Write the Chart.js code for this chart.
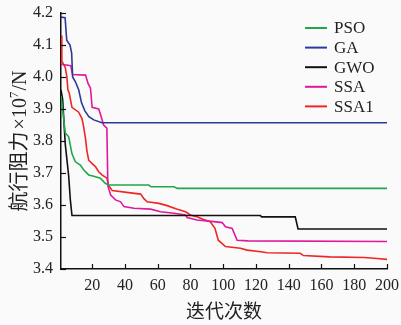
<!DOCTYPE html>
<html><head><meta charset="utf-8">
<script src="https://cdn.jsdelivr.net/npm/chart.js@4/dist/chart.umd.min.js"></script>
<style>
html,body{margin:0;padding:0;background:#fafafa;}
#wrap{width:401px;height:325px;position:relative;}
</style></head>
<body><div id="wrap"><canvas id="c" width="401" height="325"></canvas></div>
<script>
const seriesNames = ["PSO","GA","GWO","SSA","SSA1"];
const seriesColors = ["#1ea84a","#2b3a98","#111111","#e0189c","#ee2626"];
const xTickValues = [20,40,60,80,100,120,140,160,180,200];
const yTickValues = [3.4,3.5,3.6,3.7,3.8,3.9,4.0,4.1,4.2];
const xTitle = "迭代次数";
const yTitleCJK = "航行阻力";
const yTitleA = "×10";
const yTitleSup = "7";
const yTitleB = "/N";

const psoIter = [1,2,3.6,5.7,7.7,9.8,12.8,14.8,17.9,21,25,28,30,54.6,56,70,72,200];
const psoVal  = [3.94,3.90,3.825,3.813,3.76,3.735,3.725,3.71,3.694,3.69,3.684,3.668,3.6625,3.6625,3.657,3.657,3.652,3.652];

const gaIter = [1,3.5,4.5,6.5,7.5,8.1,9.8,11.8,13.5,15.5,18,21,26,200];
const gaVal  = [4.187,4.185,4.115,4.10,4.075,4.0,3.985,3.96,3.92,3.895,3.876,3.866,3.857,3.857];

const gwoIter = [1,2,3.6,5.7,6.7,7.7,122.7,123.5,144,145.7,200];
const gwoVal  = [3.96,3.93,3.79,3.69,3.616,3.567,3.567,3.563,3.563,3.525,3.525];

const ssaIter = [1,7,8,16,17.5,19,20,24,25,27,29,29.6,30.5,31.3,34.3,37.4,39.4,45.5,55.7,61.8,70,77,78,84,94.3,99.4,101.4,105.5,108.5,115,200];
const ssaVal  = [4.04,4.035,4.008,4.006,3.98,3.965,3.905,3.90,3.885,3.85,3.84,3.66,3.645,3.631,3.616,3.61,3.595,3.59,3.587,3.579,3.574,3.569,3.561,3.553,3.548,3.545,3.532,3.527,3.49,3.488,3.486];

const ssa1Iter = [1,1.5,2.5,3.6,4.6,5.2,6,7.7,11.8,13.8,14.8,15.9,16.8,17.9,19.9,22,24,26,29,30,32.3,43.5,49.6,51.6,53.6,60.7,65.8,72,77,80,84,88,92,95,97,101.4,110.5,114.6,123,126.8,147,149,165,186,194,200];
const ssa1Val  = [4.13,4.05,4.04,4.03,4.0,3.96,3.95,3.905,3.89,3.87,3.845,3.81,3.77,3.74,3.73,3.72,3.704,3.694,3.684,3.662,3.645,3.638,3.634,3.62,3.61,3.605,3.598,3.587,3.579,3.569,3.563,3.555,3.548,3.527,3.49,3.47,3.465,3.459,3.454,3.451,3.449,3.442,3.438,3.436,3.433,3.43];

const iters = [psoIter,gaIter,gwoIter,ssaIter,ssa1Iter];
const vals = [psoVal,gaVal,gwoVal,ssaVal,ssa1Val];

const FONT = '"Liberation Serif","Times New Roman","Noto Sans CJK SC",serif';
const CJK = '"Noto Sans CJK SC",sans-serif';

const datasets = seriesNames.map((n,i)=>({
  label:n,
  data: iters[i].map((x,k)=>({x:x,y:vals[i][k]})),
  borderColor: seriesColors[i],
  backgroundColor: seriesColors[i],
  borderWidth: 1.6,
  pointRadius: 0,
  showLine: true,
  tension: 0,
  fill: false
}));

const decor = {
  id:'decor',
  afterDatasetsDraw(chart){
    const ctx = chart.ctx;
    const xs = chart.scales.x, ys = chart.scales.y;
    const ca = chart.chartArea;
    ctx.save();
    ctx.strokeStyle = '#111';
    ctx.lineWidth = 1.2;
    xTickValues.forEach(v=>{
      const px = Math.round(xs.getPixelForValue(v))+0.5;
      ctx.beginPath(); ctx.moveTo(px, ca.bottom); ctx.lineTo(px, ca.bottom-5); ctx.stroke();
    });
    yTickValues.forEach(v=>{
      const py = Math.round(ys.getPixelForValue(v))+0.5;
      ctx.beginPath(); ctx.moveTo(ca.left, py); ctx.lineTo(ca.left+5, py); ctx.stroke();
    });
    // legend
    ctx.font = '17px ' + FONT;
    ctx.textBaseline = 'middle';
    ctx.textAlign = 'left';
    seriesNames.forEach((n,i)=>{
      const y = 28 + i*19.6;
      ctx.strokeStyle = seriesColors[i];
      ctx.lineWidth = 2;
      ctx.beginPath(); ctx.moveTo(305, y); ctx.lineTo(327, y); ctx.stroke();
      ctx.fillStyle = '#222';
      ctx.fillText(n, 334, y+1);
    });
    // x title
    ctx.fillStyle = '#222';
    ctx.font = '19px ' + CJK;
    ctx.textAlign = 'center';
    ctx.fillText(xTitle, (ca.left+ca.right)/2, 311);
    // y title (piecewise, rotated)
    ctx.save();
    ctx.translate(19, (ca.top+ca.bottom)/2);
    ctx.rotate(-Math.PI/2);
    ctx.textAlign = 'left';
    ctx.textBaseline = 'alphabetic';
    const fC = '20px ' + CJK, fL = '20px ' + FONT, fS = '13px ' + FONT;
    ctx.font = fC; const wC = ctx.measureText(yTitleCJK).width;
    ctx.font = fL; const wA = ctx.measureText(yTitleA).width, wB = ctx.measureText(yTitleB).width;
    ctx.font = fS; const wS = ctx.measureText(yTitleSup).width;
    const gap = 2;
    const total = wC + gap + wA + wS + 1 + wB;
    let x0 = -total/2;
    const base = 7;
    ctx.font = fC; ctx.fillText(yTitleCJK, x0, base); x0 += wC + gap;
    ctx.font = fL; ctx.fillText(yTitleA, x0, base); x0 += wA;
    ctx.font = fS; ctx.fillText(yTitleSup, x0, base-8); x0 += wS + 1;
    ctx.font = fL; ctx.fillText(yTitleB, x0, base);
    ctx.restore();
    ctx.restore();
  }
};

new Chart(document.getElementById('c'), {
  type:'scatter',
  data:{datasets},
  options:{
    responsive:false,
    animation:false,
    devicePixelRatio:1,
    layout:{padding:{top:13,right:14,left:0,bottom:0}},
    plugins:{legend:{display:false},tooltip:{enabled:false}},
    scales:{
      x:{
        type:'linear', min:1, max:200,
        afterBuildTicks(s){ s.ticks = xTickValues.map(v=>({value:v})); },
        afterFit(s){ s.height = 56; s.paddingLeft = 0; s.paddingRight = 0; },
        grid:{display:false, drawTicks:false},
        border:{display:true,color:'#111',width:1.5},
        ticks:{color:'#222',font:{family:FONT,size:16},padding:7,maxRotation:0,autoSkip:false}
      },
      y:{
        type:'linear', min:3.4, max:4.2,
        afterBuildTicks(s){ s.ticks = yTickValues.map(v=>({value:v})); },
        afterFit(s){ s.width = 61; s.paddingTop = 0; s.paddingBottom = 0; },
        grid:{display:false, drawTicks:false},
        border:{display:true,color:'#111',width:1.5},
        ticks:{color:'#222',font:{family:FONT,size:16},padding:8,callback:v=>v.toFixed(1)}
      }
    }
  },
  plugins:[decor]
});
</script></body></html>
